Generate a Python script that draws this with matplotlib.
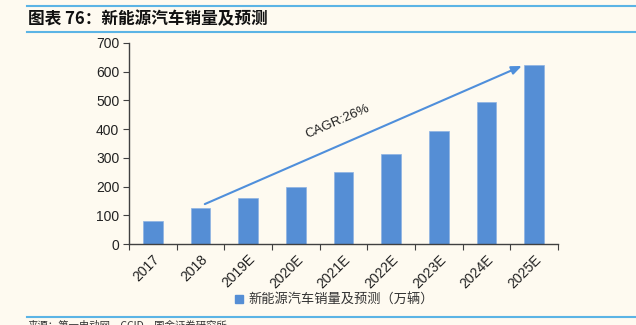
import matplotlib
matplotlib.use("Agg")
import matplotlib.pyplot as plt
from matplotlib.lines import Line2D
import numpy as np

categories = ["2017", "2018", "2019E", "2020E", "2021E", "2022E", "2023E", "2024E", "2025E"]
sales = [80, 127, 161, 200, 250, 314, 394, 495, 625]
y_ticks = [0, 100, 200, 300, 400, 500, 600, 700]
legend_label = "新能源汽车销量及预测（万辆）"
title_text = "图表 76：新能源汽车销量及预测"
source_text = "来源：第一电动网，CCID，国金证券研究所"
cagr_text = "CAGR:26%"

BG = "#FEFAF0"
BAR = "#558ED5"
LINE = "#5BB4E5"
FONT = ["Liberation Sans", "Noto Sans CJK SC", "DejaVu Sans"]
CJK = ["Noto Sans CJK SC", "DejaVu Sans"]

plt.rcParams['font.family'] = FONT

fig = plt.figure(figsize=(6.36, 3.25), dpi=100, facecolor=BG)
ax = fig.add_axes([129/636, 81/325, 429/636, 201/325])
ax.set_facecolor(BG)

x = np.arange(len(categories))
ax.bar(x, sales, width=0.41, color=BAR, edgecolor="#8DB3E2", linewidth=0.5, zorder=2)

ax.set_xlim(-0.5, len(categories) - 0.5)
ax.set_ylim(0, 700)
ax.set_yticks(y_ticks)
ax.set_yticklabels([str(v) for v in y_ticks], fontsize=10, color="#222222")

ax.set_xticks(np.arange(len(categories) + 1) - 0.5)
ax.set_xticklabels([])
ax.set_xticks(x, minor=True)
ax.set_xticklabels(categories, minor=True, rotation=45, ha="right", va="top",
                   rotation_mode="anchor", fontsize=10, color="#222222")
ax.tick_params(axis="x", which="major", direction="out", length=4, color="#404040")
ax.tick_params(axis="x", which="minor", length=0, pad=6)
ax.tick_params(axis="y", direction="out", length=4, color="#404040", pad=3)

for s in ["top", "right"]:
    ax.spines[s].set_visible(False)
for s in ["left", "bottom"]:
    ax.spines[s].set_color("#404040")
    ax.spines[s].set_linewidth(1.0)

# CAGR arrow
x0, y0 = 1.09, sales[1] + 12
x1, y1 = 7.74, sales[-1] - 5
ax.annotate("", xy=(x1, y1), xytext=(x0, y0),
            arrowprops=dict(arrowstyle="-|>,head_length=0.6,head_width=0.25",
                            color="#4F8FDB", lw=1.5, shrinkA=0, shrinkB=0), zorder=3)
ax.text(3.88, 428, cagr_text, rotation=23.5, ha="center", va="center",
        fontsize=9.5, color="#222222", rotation_mode="anchor")

# legend
handle = Line2D([], [], marker="s", linestyle="none", markersize=6,
                markerfacecolor=BAR, markeredgecolor=BAR)
leg = fig.legend([handle], [legend_label], loc="center", bbox_to_anchor=(333/636, 1 - 300/325),
                 frameon=False, handletextpad=0.2, prop={"family": CJK, "size": 9.5},
                 handlelength=1.0)
for t in leg.get_texts():
    t.set_color("#333333")

# title bar
fig.add_artist(Line2D([27/636, 1], [1 - 6/325, 1 - 6/325], color=LINE, lw=1.5))
fig.add_artist(Line2D([27/636, 1], [1 - 32/325, 1 - 32/325], color=LINE, lw=1.5))
fig.text(28/636, 1 - 19/325, title_text, fontsize=12, fontweight="bold",
         ha="left", va="center", color="#111111", family=CJK)

# bottom line and source
fig.add_artist(Line2D([27/636, 1], [1 - 317/325, 1 - 317/325], color=LINE, lw=1.5))
fig.text(28/636, 1 - 321/325, source_text, fontsize=7.5, ha="left", va="top",
         color="#333333", family=CJK)

fig.savefig("out.png", dpi=100, facecolor=BG)
